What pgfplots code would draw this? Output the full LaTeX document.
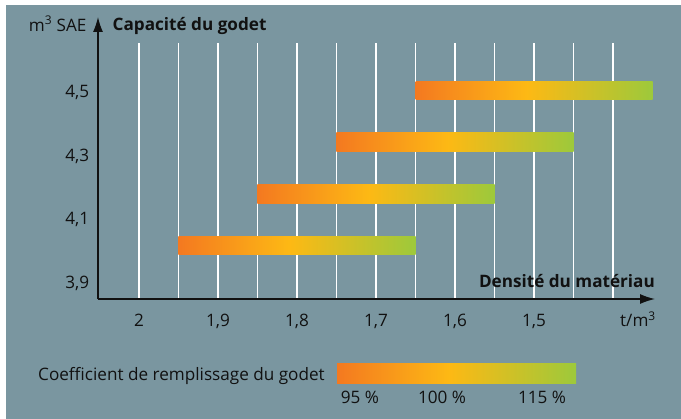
\documentclass[border=0pt]{standalone}
\usepackage{fontspec}
\setmainfont{Open Sans}
\usepackage{pgfplots}
\pgfplotsset{compat=1.18}
\usetikzlibrary{arrows.meta}
\definecolor{bg}{HTML}{7A96A0}
\definecolor{txt}{HTML}{111111}
\definecolor{c1}{HTML}{F47920}
\definecolor{c2}{HTML}{FDB914}
\definecolor{c3}{HTML}{9DC93B}
\pgfdeclarehorizontalshading{barshade}{100bp}{color(0bp)=(c1); color(25bp)=(c1); color(48.5bp)=(c2); color(75bp)=(c3); color(100bp)=(c3)}
\newcommand{\lbl}{\fontsize{17.2}{20}\selectfont}
\begin{document}
\begin{tikzpicture}
\useasboundingbox (0bp,0bp) rectangle (681bp,-419bp);
\fill[white] (0bp,0bp) rectangle (681bp,-419bp);
\fill[bg] (6bp,-5bp) rectangle (681bp,-419bp);
\begin{axis}[
  at={(98bp,-299bp)}, anchor=south west,
  scale only axis, width=557bp, height=256bp,
  x dir=reverse,
  xmin=1.34684, xmax=2.05190,
  ymin=3.84646, ymax=4.65276,
  axis line style={draw=none},
  major tick length=0pt, minor tick length=0pt,
  xtick={1.40,1.45,1.50,1.55,1.60,1.65,1.70,1.75,1.80,1.85,1.90,1.95,2.00},
  xticklabels={{},{},{1,5},{},{1,6},{},{1,7},{},{1,8},{},{1,9},{},{2}},
  ytick={3.9,4.1,4.3,4.5},
  yticklabels={{3,9},{4,1},{4,3},{4,5}},
  xmajorgrids, grid style={white, line width=1.2bp},
  clip=false,
  /pgf/number format/assume math mode=true,
  ticklabel style={font=\lbl, text=txt, inner sep=0pt},
  xticklabel style={anchor=base, yshift=-27.6bp},
  yticklabel style={anchor=base east, xshift=-8.7bp, yshift=-6.2bp},
]
\addplot[draw=none, shade, shading=barshade] coordinates {(1.95,3.9855) (1.65,3.9855) (1.65,4.0445) (1.95,4.0445)} -- cycle;
\addplot[draw=none, shade, shading=barshade] coordinates {(1.85,4.1475) (1.55,4.1475) (1.55,4.2065) (1.85,4.2065)} -- cycle;
\addplot[draw=none, shade, shading=barshade] coordinates {(1.75,4.3105) (1.45,4.3105) (1.45,4.3695) (1.75,4.3695)} -- cycle;
\addplot[draw=none, shade, shading=barshade] coordinates {(1.65,4.4735) (1.35,4.4735) (1.35,4.5325) (1.65,4.5325)} -- cycle;
\draw[txt, line width=1.3bp, -{Latex[length=15bp,width=10bp]}] (axis cs:2.0519,3.84646) -- (axis cs:2.0519,4.73465);
\draw[txt, line width=1.3bp, -{Latex[length=15bp,width=10bp]}] (axis cs:2.0519,3.84646) -- (axis cs:1.34684,3.84646);
\end{axis}
\node[anchor=base east, inner sep=0pt, text=txt, font=\lbl] at (86.7bp,-31bp) {m\textsuperscript{3} SAE};
\node[anchor=base west, inner sep=0pt, text=txt, font=\lbl\bfseries] at (112.5bp,-30bp) {Capacité du godet};
\node[anchor=base east, inner sep=0pt, text=txt, font=\lbl\bfseries] at (655bp,-287bp) {Densité du matériau};
\node[anchor=base east, inner sep=0pt, text=txt, font=\lbl] at (656bp,-326.5bp) {t/m\textsuperscript{3}};
\node[anchor=base west, inner sep=0pt, text=txt, font=\lbl] at (38bp,-380.7bp) {Coefficient de remplissage du godet};
\shade[shading=barshade] (337bp,-363bp) rectangle (576bp,-383bp);
\node[anchor=base, inner sep=0pt, text=txt, font=\lbl] at (360bp,-403.3bp) {95 \%};
\node[anchor=base, inner sep=0pt, text=txt, font=\lbl] at (442bp,-403.3bp) {100 \%};
\node[anchor=base, inner sep=0pt, text=txt, font=\lbl] at (542bp,-403.3bp) {115 \%};
\end{tikzpicture}
\end{document}
